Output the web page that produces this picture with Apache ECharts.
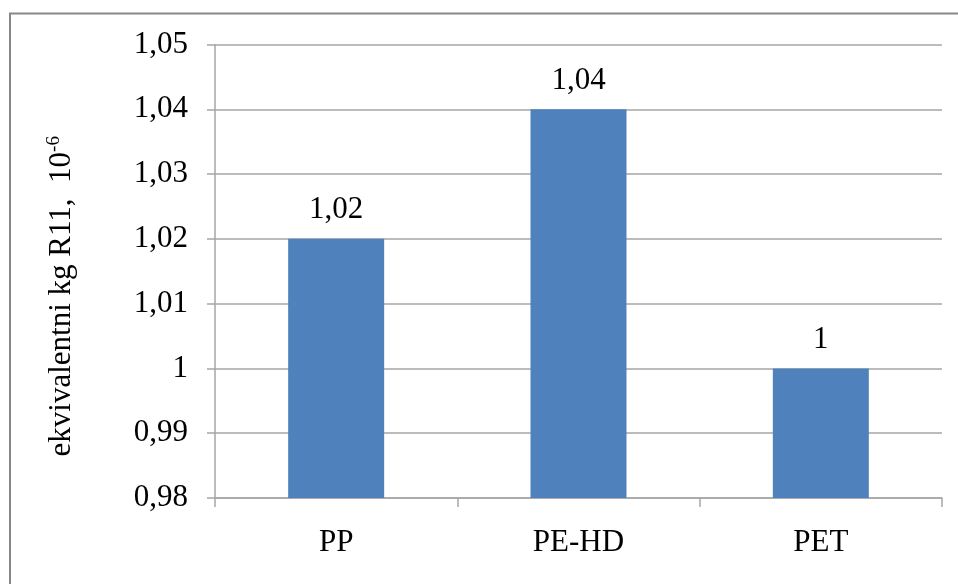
<!DOCTYPE html>
<html>
<head>
<meta charset="utf-8">
<script src="https://cdn.jsdelivr.net/npm/echarts@6/dist/echarts.min.js"></script>
<style>html,body{margin:0;padding:0;background:#fff;}#c{width:958px;height:584px;}</style>
</head>
<body>
<div id="c"></div>
<script>
const categories = ['PP', 'PE-HD', 'PET'];
const values = [1.02, 1.04, 1.00];
const yMin = 0.98, yMax = 1.05, yStep = 0.01;
const axisTitleMain = 'ekvivalentni kg R11,  10';
const axisTitleSup = '-6';

function fmt(v) { return String(Number(v.toFixed(2))).replace('.', ','); }

const FONT = '"Liberation Serif", "Times New Roman", serif';
const chart = echarts.init(document.getElementById('c'), null, {renderer: 'canvas'});
chart.setOption({
  backgroundColor: '#ffffff',
  animation: false,
  graphic: [{
    type: 'rect', silent: true,
    shape: {x: 10, y: 13.5, width: 1000, height: 700},
    style: {fill: 'none', stroke: '#878787', lineWidth: 2}
  }],
  grid: {left: 215, right: 16, top: 44.5, bottom: 86, containLabel: false},
  xAxis: {
    type: 'category', data: categories,
    axisLine: {show: true, lineStyle: {color: '#a6a6a6', width: 1.5}},
    axisTick: {show: true, length: 9, alignWithLabel: false, lineStyle: {color: '#a6a6a6', width: 1.5}},
    axisLabel: {color: '#000', fontFamily: FONT, fontSize: 31, margin: 29}
  },
  yAxis: {
    type: 'value', min: yMin, max: yMax, interval: yStep,
    name: '{m|' + axisTitleMain + '}{s|' + axisTitleSup + '}',
    nameLocation: 'middle', nameRotate: 90, nameGap: 137,
    nameTextStyle: {
      padding: [0, 50, 0, 0],
      rich: {
        m: {fontFamily: FONT, fontSize: 31, color: '#000'},
        s: {fontFamily: FONT, fontSize: 19, color: '#000', verticalAlign: 'top', padding: [0, 0, 14, 0]}
      }
    },
    axisLine: {show: true, lineStyle: {color: '#a6a6a6', width: 1.5}},
    axisTick: {show: true, length: 8, lineStyle: {color: '#a6a6a6', width: 1.5}},
    splitLine: {show: true, lineStyle: {color: '#a6a6a6', width: 1.5}},
    axisLabel: {color: '#000', fontFamily: FONT, fontSize: 31, margin: 27, formatter: fmt}
  },
  series: [{
    type: 'bar', data: values, barWidth: 96,
    itemStyle: {color: '#4f81bd'},
    label: {show: true, position: 'top', distance: 13, color: '#000', fontFamily: FONT, fontSize: 31,
      formatter: p => fmt(p.value)}
  }]
});
</script>
</body>
</html>
